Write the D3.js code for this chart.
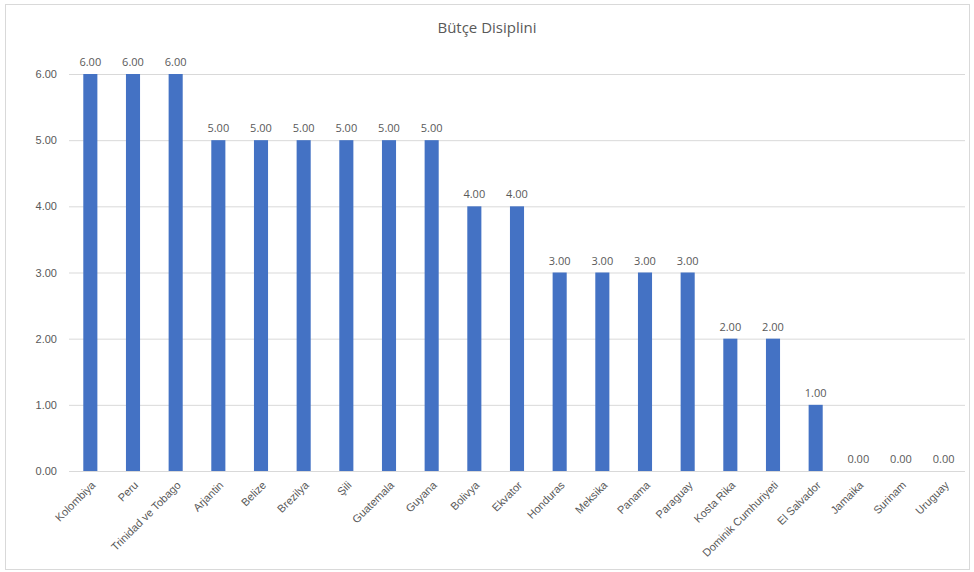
<!doctype html>
<html>
<head>
<script src="https://cdnjs.cloudflare.com/ajax/libs/d3/7.8.5/d3.min.js"></script>
<style>
  body { margin: 0; background: #fff; font-family: "Open Sans", "Noto Sans", sans-serif; }
  .tick line { stroke: #d9d9d9; }
  path.domain { stroke: none; }
</style>
</head>
<body>
<div id="viz"></div>
<script>
var countries = ["Kolombiya", "Peru", "Trinidad ve Tobago", "Arjantin", "Belize", "Brezilya", "Şili",
  "Guatemala", "Guyana", "Bolivya", "Ekvator", "Honduras", "Meksika", "Panama", "Paraguay",
  "Kosta Rika", "Dominik Cumhuriyeti", "El Salvador", "Jamaika", "Surinam", "Uruguay"];
var values = [6, 6, 6, 5, 5, 5, 5, 5, 5, 4, 4, 3, 3, 3, 3, 2, 2, 1, 0, 0, 0];
var yTicks = [0, 1, 2, 3, 4, 5, 6];
var title = "Bütçe Disiplini";

var W = 974, H = 572;
var margin = { top: 74, right: 9, bottom: 101, left: 69 };
var width = W - margin.left - margin.right,
    height = H - margin.top - margin.bottom;

var svg = d3.select("#viz").append("svg")
  .attr("width", W).attr("height", H);

// chart border
svg.append("rect")
  .attr("x", 5.5).attr("y", 4.5)
  .attr("width", 964).attr("height", 565)
  .attr("fill", "#fff").attr("stroke", "#d9d9d9");

svg.append("text")
  .attr("x", 487).attr("y", 33)
  .attr("text-anchor", "middle")
  .attr("fill", "#595959")
  .style("font-size", "15px")
  .text(title);

var g = svg.append("g")
  .attr("transform", "translate(" + margin.left + "," + margin.top + ")");

var x = d3.scaleBand().domain(countries).range([0, width]).paddingInner(0.67).paddingOuter(0.335);
var y = d3.scaleLinear().domain([0, 6]).range([height, 0]);

// gridlines + y labels
var yAxis = g.append("g")
  .call(d3.axisLeft(y).tickValues(yTicks).tickSize(-width).tickFormat(d3.format(".2f")));
yAxis.selectAll("text")
  .attr("x", -12)
  .attr("fill", "#595959")
  .style("font-size", "11px");

// bars
g.selectAll("rect.bar")
  .data(values)
  .enter().append("rect")
  .attr("class", "bar")
  .attr("x", (d, i) => x(countries[i]))
  .attr("y", d => y(d))
  .attr("width", x.bandwidth())
  .attr("height", d => height - y(d))
  .attr("fill", "#4472c4");

// value labels
g.selectAll("text.val")
  .data(values)
  .enter().append("text")
  .attr("class", "val")
  .attr("x", (d, i) => x(countries[i]) + x.bandwidth() / 2)
  .attr("y", d => y(d) - 8)
  .attr("text-anchor", "middle")
  .attr("fill", "#595959")
  .style("font-size", "11px")
  .text(d => d3.format(".2f")(d));

// x axis labels
var xAxis = g.append("g")
  .attr("transform", "translate(0," + height + ")")
  .call(d3.axisBottom(x).tickSize(0));
xAxis.selectAll("text")
  .attr("fill", "#595959")
  .style("font-size", "11px")
  .style("text-anchor", "end")
  .attr("dy", "0.35em")
  .attr("transform", "translate(1,10) rotate(-45)");
</script>
</body>
</html>
